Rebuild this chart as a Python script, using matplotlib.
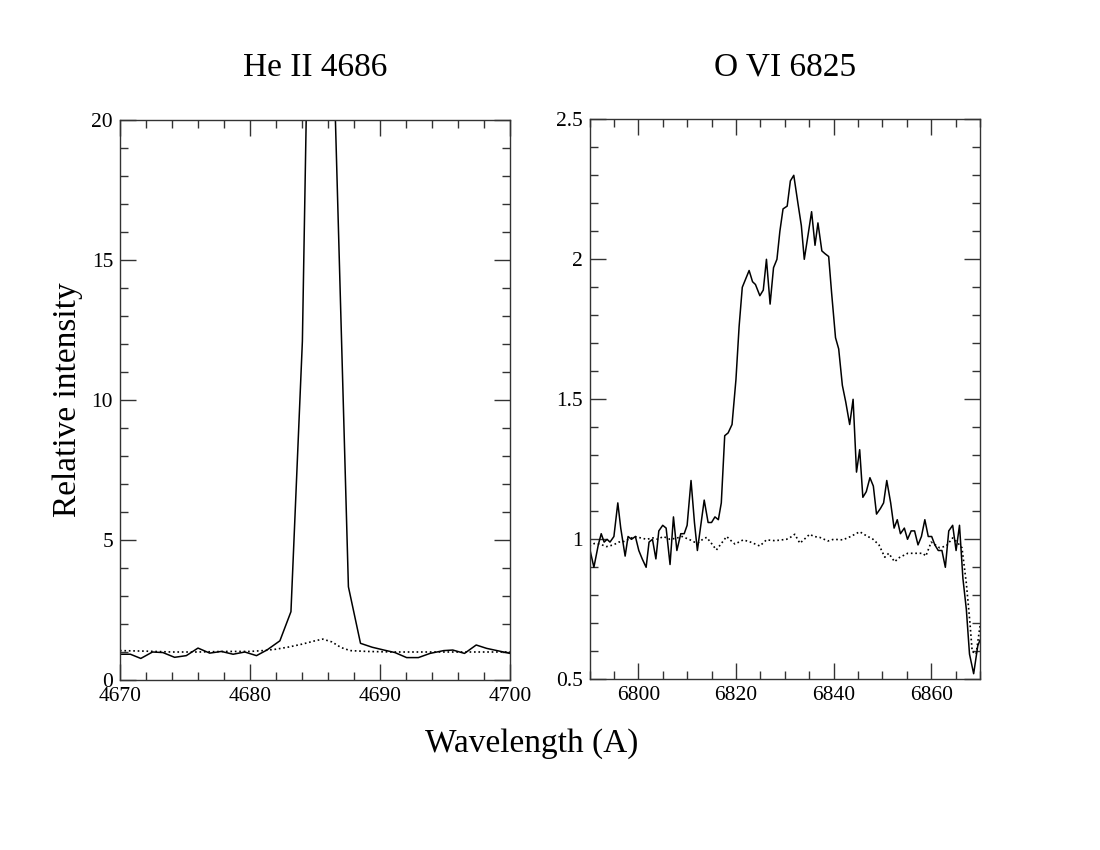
import matplotlib
matplotlib.use("Agg")
import matplotlib.pyplot as plt
from matplotlib.ticker import MultipleLocator, FuncFormatter

plt.rcParams['font.family'] = ['Liberation Serif', 'DejaVu Serif']

# ---------------- data ----------------
titles = ["He II 4686", "O VI 6825"]
xlabel = "Wavelength (A)"
ylabel = "Relative intensity"

he_wave = [4670.0, 4670.8, 4671.6, 4672.5, 4673.3, 4674.2, 4675.1, 4676.0, 4676.9,
           4677.8, 4678.7, 4679.6, 4680.5, 4681.3, 4682.3, 4683.15, 4684.03, 4684.95,
           4685.85, 4687.57, 4688.5, 4689.4, 4690.3, 4691.15, 4692.05, 4692.95,
           4693.85, 4694.9, 4695.6, 4696.5, 4697.4, 4698.2, 4699.1, 4700.0]
he_flux = [0.92, 0.92, 0.77, 1.00, 0.98, 0.81, 0.87, 1.14, 0.96,
           1.02, 0.92, 1.00, 0.87, 1.07, 1.40, 2.44, 12.1, 37.0,
           32.0, 3.33, 1.31, 1.17, 1.07, 0.98, 0.80, 0.80,
           0.95, 1.05, 1.07, 0.95, 1.25, 1.13, 1.04, 0.95]

he_model_wave = [4670, 4672, 4674, 4676, 4678, 4680, 4681, 4682, 4683, 4684,
                 4685, 4685.6, 4686.3, 4687, 4687.7, 4689, 4691, 4693, 4695,
                 4697, 4700]
he_model_flux = [1.05, 1.03, 1.00, 1.00, 1.02, 1.02, 1.05, 1.10, 1.18, 1.28,
                 1.40, 1.46, 1.36, 1.16, 1.05, 1.02, 1.00, 1.00, 1.00,
                 1.00, 1.00]

ov_wave = [6790.0, 6790.9, 6791.8, 6792.4, 6793.0, 6793.6, 6794.2, 6795.0, 6795.8,
           6796.4, 6797.3, 6797.9, 6798.6, 6799.4, 6800.1, 6800.8, 6801.6, 6802.2,
           6802.9, 6803.6, 6804.2, 6805.0, 6805.7, 6806.5, 6807.2, 6807.9, 6808.7,
           6809.4, 6810.0, 6810.8, 6811.5, 6812.1, 6812.8, 6813.5, 6814.3, 6815.0,
           6815.7, 6816.4, 6817.0, 6817.7, 6818.4, 6819.2, 6820.0, 6820.65, 6821.3,
           6822.7, 6823.4, 6824.0, 6824.9, 6825.6, 6826.25, 6827.0, 6827.7, 6828.4,
           6829.0, 6829.65, 6830.5, 6831.15, 6831.85, 6832.7, 6833.4, 6834.0, 6834.8,
           6835.5, 6836.2, 6836.8, 6837.6, 6838.25, 6839.0, 6839.6, 6840.4, 6841.05,
           6841.8, 6842.5, 6843.3, 6844.0, 6844.7, 6845.35, 6846.0, 6846.7, 6847.45,
           6848.15, 6848.8, 6849.6, 6850.25, 6850.9, 6851.7, 6852.4, 6853.05, 6853.7,
           6854.5, 6855.15, 6855.9, 6856.6, 6857.3, 6858.0, 6858.7, 6859.4, 6860.1,
           6860.75, 6861.45, 6862.2, 6862.9, 6863.6, 6864.4, 6865.1, 6865.8, 6866.5,
           6867.2, 6867.85, 6868.7, 6869.55, 6870.0]
ov_flux = [0.97, 0.90, 0.98, 1.02, 0.99, 1.00, 0.99, 1.01, 1.13,
           1.04, 0.94, 1.01, 1.00, 1.01, 0.96, 0.93, 0.90, 0.99,
           1.00, 0.93, 1.03, 1.05, 1.04, 0.91, 1.08, 0.96, 1.02,
           1.02, 1.05, 1.21, 1.06, 0.96, 1.05, 1.14, 1.06, 1.06,
           1.08, 1.07, 1.13, 1.37, 1.38, 1.41, 1.57, 1.76, 1.90,
           1.96, 1.92, 1.91, 1.87, 1.89, 2.00, 1.84, 1.97, 2.00,
           2.10, 2.18, 2.19, 2.28, 2.30, 2.20, 2.12, 2.00, 2.09,
           2.17, 2.05, 2.13, 2.03, 2.02, 2.01, 1.88, 1.72, 1.68,
           1.55, 1.49, 1.41, 1.50, 1.24, 1.32, 1.15, 1.17, 1.22,
           1.19, 1.09, 1.11, 1.13, 1.21, 1.13, 1.04, 1.07, 1.02,
           1.04, 1.00, 1.03, 1.03, 0.98, 1.01, 1.07, 1.01, 1.01,
           0.98, 0.96, 0.96, 0.90, 1.03, 1.05, 0.96, 1.05, 0.86,
           0.75, 0.59, 0.52, 0.62, 0.64]

ov_model_wave = [6790.0, 6791.0, 6792.1, 6793.5, 6794.9, 6796.0, 6797.0, 6798.0, 6799.3,
                 6800.5, 6801.7, 6803.0, 6804.0, 6805.1, 6806.5, 6807.8, 6809.0, 6810.6,
                 6811.5, 6812.3, 6813.2, 6814.0, 6815.0, 6816.0, 6817.05, 6818.1, 6819.0,
                 6819.8, 6821.5, 6823.0, 6824.9, 6826.25, 6828.0, 6830.35, 6831.0, 6832.05,
                 6833.1, 6834.0, 6835.1, 6836.0, 6837.15, 6838.85, 6840.0, 6841.9, 6843.5,
                 6845.35, 6846.5, 6848.1, 6849.3, 6850.5, 6851.3, 6852.5, 6853.5, 6855.2,
                 6856.5, 6858.3, 6858.9, 6860.0, 6861.7, 6863.1, 6864.4, 6865.3, 6866.3,
                 6867.2, 6867.9, 6868.4, 6869.2, 6870.0]
ov_model_flux = [0.976, 0.985, 0.983, 0.974, 0.980, 0.990, 0.992, 1.000, 1.010,
                 1.005, 1.000, 1.005, 1.000, 1.010, 1.000, 1.004, 1.010, 0.998,
                 0.990, 0.988, 1.000, 1.007, 0.985, 0.962, 0.986, 1.010, 0.995,
                 0.983, 0.998, 0.990, 0.976, 0.998, 0.995, 1.000, 1.005, 1.018,
                 0.986, 1.000, 1.018, 1.010, 1.007, 0.994, 1.000, 0.998, 1.010,
                 1.027, 1.015, 1.000, 0.980, 0.936, 0.950, 0.920, 0.935, 0.950,
                 0.950, 0.950, 0.940, 0.990, 0.970, 0.976, 1.005, 0.990, 0.970,
                 0.843, 0.710, 0.600, 0.590, 0.690]

# ---------------- figure ----------------
W, H = 1100, 850
fig = plt.figure(figsize=(11, 8.5), dpi=100)

def px_axes(x0, x1, y0, y1):
    return fig.add_axes([x0 / W, 1 - y1 / H, (x1 - x0) / W, (y1 - y0) / H])

ax1 = px_axes(120, 510, 120, 680)
ax2 = px_axes(589.5, 980, 119.3, 679.3)

spine_col = '#333333'
tick_fs = 15.5

def style(ax):
    for s in ax.spines.values():
        s.set_linewidth(1.0)
        s.set_color(spine_col)
    ax.tick_params(which='both', direction='in', top=True, right=True,
                   color=spine_col, width=1.0, labelsize=tick_fs, pad=5)
    ax.tick_params(which='major', length=11.5)
    ax.tick_params(which='minor', length=5.8)

fmt = FuncFormatter(lambda v, p: '%g' % v)

ax1.plot(he_wave, he_flux, color='black', lw=1.1)
ax1.plot(he_model_wave, he_model_flux, color='black', lw=1.2, ls=':')
ax1.set_xlim(4670, 4700)
ax1.set_ylim(0, 20)
ax1.xaxis.set_major_locator(MultipleLocator(10))
ax1.xaxis.set_minor_locator(MultipleLocator(2))
ax1.yaxis.set_major_locator(MultipleLocator(5))
ax1.yaxis.set_minor_locator(MultipleLocator(1))
ax1.yaxis.set_major_formatter(fmt)
style(ax1)

ax2.plot(ov_wave, ov_flux, color='black', lw=1.1)
ax2.plot(ov_model_wave, ov_model_flux, color='black', lw=1.2, ls=':')
ax2.set_xlim(6790, 6870)
ax2.set_ylim(0.5, 2.5)
ax2.xaxis.set_major_locator(MultipleLocator(20))
ax2.xaxis.set_minor_locator(MultipleLocator(5))
ax2.yaxis.set_major_locator(MultipleLocator(0.5))
ax2.yaxis.set_minor_locator(MultipleLocator(0.1))
ax2.yaxis.set_major_formatter(fmt)
style(ax2)

fig.text(315 / W, 1 - 76 / H, titles[0], ha='center', va='baseline', fontsize=24)
fig.text(785 / W, 1 - 76 / H, titles[1], ha='center', va='baseline', fontsize=24)
fig.text(532 / W, 1 - 752 / H, xlabel, ha='center', va='baseline', fontsize=24)
fig.text(68 / W, 1 - 400 / H, ylabel, ha='center', va='center', rotation=90, fontsize=24)

fig.savefig('out.png', dpi=100)
